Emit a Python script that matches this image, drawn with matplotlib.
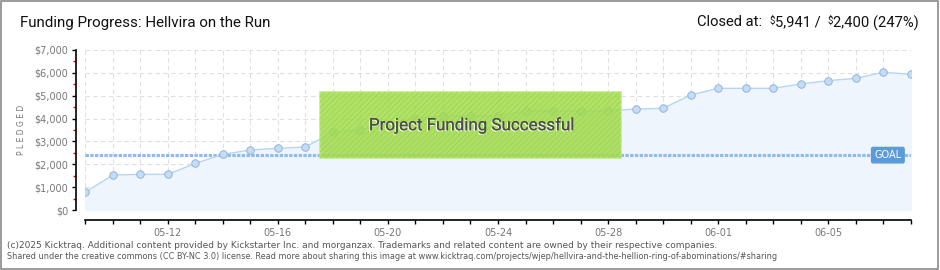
import matplotlib
matplotlib.use("Agg")
import matplotlib.pyplot as plt
import numpy as np
from matplotlib.patches import Rectangle
from matplotlib.ticker import FuncFormatter, MultipleLocator
from matplotlib.offsetbox import TextArea, HPacker, AnchoredOffsetbox
import matplotlib.patheffects as pe

# データ
dates = ["05-09", "05-10", "05-11", "05-12", "05-13", "05-14", "05-15", "05-16",
         "05-17", "05-18", "05-19", "05-20", "05-21", "05-22", "05-23", "05-24",
         "05-25", "05-26", "05-27", "05-28", "05-29", "05-30", "05-31", "06-01",
         "06-02", "06-03", "06-04", "06-05", "06-06", "06-07", "06-08"]
pledged = [780, 1530, 1560, 1560, 2040, 2435, 2625, 2700, 2756, 3400,
           3500, 3780, 4000, 4112, 4112, 4112, 4331, 4331, 4331, 4331,
           4419, 4448, 5031, 5323, 5323, 5323, 5512, 5658, 5760, 6023,
           5941]
goal = 2400
title = "Funding Progress: Hellvira on the Run"
footer = [
    "(c)2025 Kicktraq. Additional content provided by Kickstarter Inc. and morganzax. "
    "Trademarks and related content are owned by their respective companies.",
    "Shared under the creative commons (CC BY-NC 3.0) license. Read more about sharing "
    "this image at www.kicktraq.com/projects/wjep/hellvira-and-the-hellion-ring-of-abominations/#sharing",
]

W, H = 940, 270
fig = plt.figure(figsize=(W / 100, H / 100), dpi=100)
fig.patch.set_facecolor("white")

# 枠線
fig.add_artist(Rectangle((0.5 / W, 1.5 / H), 937 / W, 267.5 / H,
                         transform=fig.transFigure, fill=False,
                         edgecolor="#8a8a8a", lw=1.2))

ax = fig.add_axes([85.3 / W, 1 - 210 / H, (910.7 - 85.3) / W, 160 / H])
x = np.arange(len(dates))

ax.fill_between(x, pledged, 0, color="#eef5fd", zorder=1)
ax.plot(x, pledged, color="#b9d5f3", lw=1, zorder=3)
ax.plot(x, pledged, "o", ms=5.4, mfc="#c3dcf7", mec="#93b3d8", mew=0.7, zorder=4)
ax.axhline(goal, color="#8fbbea", lw=2.2, dashes=(1.1, 0.45), zorder=2)

ax.set_xlim(0, len(dates) - 1)
ax.set_ylim(0, 7000)

# グリッド
ax.set_axisbelow(True)
ax.grid(True, color="#e0e0e0", lw=0.8, dashes=(4, 3))

# 軸
for s in ["top", "right"]:
    ax.spines[s].set_visible(False)
ax.spines["left"].set_position(("outward", 6.5))
ax.spines["bottom"].set_position(("outward", 7.2))
ax.spines["left"].set_linewidth(1.2)
ax.spines["bottom"].set_linewidth(1.2)

ax.set_xticks(x)
ax.set_xticklabels([d if (i - 3) % 4 == 0 else "" for i, d in enumerate(dates)])
ax.yaxis.set_major_locator(MultipleLocator(1000))
ax.yaxis.set_minor_locator(MultipleLocator(500))
ax.yaxis.set_major_formatter(FuncFormatter(lambda v, p: "\\$" + f"{v:,.0f}"))
ax.tick_params(axis="both", which="major", length=2.8, width=1, colors="black",
               labelcolor="#777777", labelsize=7, pad=3)
ax.tick_params(axis="y", which="minor", length=2.5, width=1, colors="#e00000")
ax.tick_params(axis="x", pad=3)

fig.text(22 / W, 1 - 129.5 / H, "P L E D G E D", rotation=90, ha="center",
         va="center", fontsize=5.5, color="#777777")

# 成功バナー
ax.add_patch(Rectangle((0.2843, 0.325), 0.365, 0.4125, transform=ax.transAxes,
                       facecolor="#a3dc4f", edgecolor="#b9e87a", lw=1.2,
                       alpha=0.86, zorder=5))
plt.rcParams["hatch.linewidth"] = 0.4
ax.add_patch(Rectangle((0.2843, 0.325), 0.365, 0.4125, transform=ax.transAxes,
                       facecolor="none", edgecolor="#98d040", lw=0, hatch="//////",
                       zorder=5))
ax.text(0.467, 0.53, "Project Funding Successful", transform=ax.transAxes,
        ha="center", va="center", fontsize=12.2, color="#4d4d4d",
        family=["Roboto", "DejaVu Sans"], zorder=6,
        path_effects=[pe.withSimplePatchShadow(offset=(-0.8, -0.8), shadow_rgbFace="white", alpha=0.8),
                      pe.Normal()])

# GOAL ラベル
ax.text(29.17, goal, "GOAL", ha="center", va="center", fontsize=7,
        color="white", zorder=6,
        bbox=dict(boxstyle="round,pad=0.28,rounding_size=0.15",
                  facecolor="#5b9bdc", edgecolor="#5b9bdc"))

# タイトル
fig.text(20 / W, 1 - 23 / H, title, ha="left", va="center", fontsize=10.9,
         color="#111111", family=["Roboto", "DejaVu Sans"])

big = dict(fontsize=10.6, color="#111111", family=["Roboto", "DejaVu Sans"])
small = dict(fontsize=7, color="#111111", family=["Roboto", "DejaVu Sans"])
parts = [TextArea("Closed at:  ", textprops=big),
         TextArea("\\$", textprops=small),
         TextArea("5,941 /  ", textprops=big),
         TextArea("\\$", textprops=small),
         TextArea("2,400 (247%)", textprops=big)]
box = HPacker(children=parts, align="top", pad=0, sep=0)
fig.add_artist(AnchoredOffsetbox(loc="center right", child=box, frameon=False,
                                 bbox_to_anchor=(919 / W, 1 - 23 / H),
                                 bbox_transform=fig.transFigure, borderpad=0, pad=0))

# フッター
fig.text(7 / W, 1 - 245 / H, footer[0], ha="left", va="center", fontsize=6.5,
         color="#555555")
fig.text(7 / W, 1 - 256.5 / H, footer[1], ha="left", va="center", fontsize=5.85,
         color="#555555")

fig.savefig("out.png", dpi=100, facecolor="white")
